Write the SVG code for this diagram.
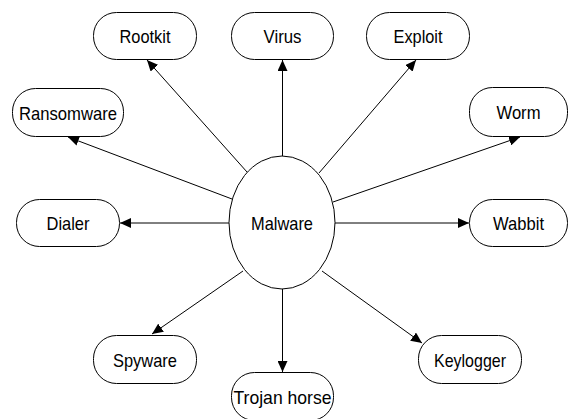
<svg xmlns="http://www.w3.org/2000/svg" width="569" height="419" viewBox="0 0 569 419">
  <style>
    .box { fill: #ffffff; stroke: #000000; stroke-width: 1; }
    .lbl { font-family: "Liberation Sans", Arial, sans-serif; font-size: 19px; fill: #000000; text-anchor: middle; }
    .edge { stroke: #000000; stroke-width: 1; fill: none; marker-end: url(#arrow); }
  </style>
  <defs>
    <marker id="arrow" markerUnits="userSpaceOnUse" markerWidth="12" markerHeight="10" refX="11" refY="5" orient="auto">
      <path d="M0,0 L11,5 L0,10 Z" fill="#000000"/>
    </marker>
  </defs>
  <rect width="569" height="419" fill="#ffffff"/>

  <!-- connectors from the central node -->
  <g id="edges">
    <line class="edge" x1="247" y1="172" x2="147" y2="60"/>
    <line class="edge" x1="282.5" y1="156" x2="282.5" y2="60"/>
    <line class="edge" x1="319" y1="173" x2="416" y2="60"/>
    <line class="edge" x1="232" y1="199" x2="68" y2="137"/>
    <line class="edge" x1="333" y1="202" x2="520" y2="137"/>
    <line class="edge" x1="229" y1="223" x2="120" y2="223"/>
    <line class="edge" x1="335" y1="223" x2="469" y2="223"/>
    <line class="edge" x1="243" y1="271" x2="152" y2="334"/>
    <line class="edge" x1="282.5" y1="289" x2="282.5" y2="372"/>
    <line class="edge" x1="322" y1="271" x2="422" y2="343"/>
  </g>

  <g id="malware">
    <ellipse class="box" cx="282" cy="222.5" rx="53" ry="66.5"/>
    <text class="lbl" x="282" y="229.5" textLength="62" lengthAdjust="spacingAndGlyphs">Malware</text>
  </g>
  <g id="rootkit">
    <rect class="box" x="93.5" y="12.5" width="103" height="47" rx="23" ry="23"/>
    <text class="lbl" x="145" y="42.5" textLength="51" lengthAdjust="spacingAndGlyphs">Rootkit</text>
  </g>
  <g id="virus">
    <rect class="box" x="231.5" y="12.5" width="102" height="47" rx="23" ry="23"/>
    <text class="lbl" x="282.5" y="42.5" textLength="38" lengthAdjust="spacingAndGlyphs">Virus</text>
  </g>
  <g id="exploit">
    <rect class="box" x="366.5" y="12.5" width="103" height="47" rx="23" ry="23"/>
    <text class="lbl" x="418" y="42.5" textLength="49" lengthAdjust="spacingAndGlyphs">Exploit</text>
  </g>
  <g id="ransomware">
    <rect class="box" x="12.5" y="88.5" width="111" height="48" rx="23" ry="23"/>
    <text class="lbl" x="68" y="119.5" textLength="98" lengthAdjust="spacingAndGlyphs">Ransomware</text>
  </g>
  <g id="worm">
    <rect class="box" x="469.5" y="87.5" width="98" height="49" rx="23" ry="23"/>
    <text class="lbl" x="518.5" y="119" textLength="44" lengthAdjust="spacingAndGlyphs">Worm</text>
  </g>
  <g id="dialer">
    <rect class="box" x="16.5" y="199.5" width="103" height="47" rx="23" ry="23"/>
    <text class="lbl" x="68" y="230" textLength="43" lengthAdjust="spacingAndGlyphs">Dialer</text>
  </g>
  <g id="wabbit">
    <rect class="box" x="469.5" y="199.5" width="98" height="47" rx="23" ry="23"/>
    <text class="lbl" x="518.5" y="230" textLength="51" lengthAdjust="spacingAndGlyphs">Wabbit</text>
  </g>
  <g id="spyware">
    <rect class="box" x="93.5" y="335.5" width="103" height="48" rx="23" ry="23"/>
    <text class="lbl" x="145" y="366.5" textLength="64" lengthAdjust="spacingAndGlyphs">Spyware</text>
  </g>
  <g id="trojan-horse">
    <rect class="box" x="231.5" y="372.5" width="102" height="48" rx="23" ry="23"/>
    <text class="lbl" x="282.5" y="403.5" textLength="98" lengthAdjust="spacingAndGlyphs">Trojan horse</text>
  </g>
  <g id="keylogger">
    <rect class="box" x="418.5" y="335.5" width="103" height="48" rx="23" ry="23"/>
    <text class="lbl" x="470" y="366.5" textLength="72" lengthAdjust="spacingAndGlyphs">Keylogger</text>
  </g>
</svg>
